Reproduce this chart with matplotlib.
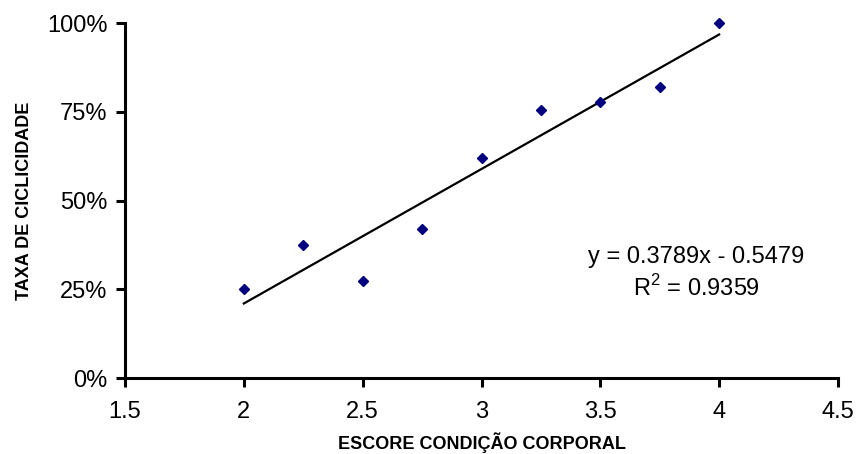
import numpy as np
import matplotlib; matplotlib.use('Agg')
import matplotlib.pyplot as plt
from matplotlib.ticker import PercentFormatter, MultipleLocator

plt.rcParams['font.family'] = ['Liberation Sans', 'DejaVu Sans']
plt.rcParams['mathtext.fontset'] = 'custom'
plt.rcParams['mathtext.rm'] = 'Liberation Sans'

# dados
escore = [2.0, 2.25, 2.5, 2.75, 3.0, 3.25, 3.5, 3.75, 4.0]
taxa = [0.25, 0.375, 0.273, 0.421, 0.619, 0.754, 0.778, 0.821, 1.0]
slope, intercept, r2 = 0.3789, -0.5479, 0.9359

fig = plt.figure(figsize=(8.57, 4.54), dpi=100)
ax = fig.add_axes([0.1459, 0.1674, 0.8319, 0.7819])

xs = np.array([min(escore), max(escore)])
ax.plot(xs, slope * xs + intercept, color='black', lw=1.6, zorder=2)
ax.plot(escore, taxa, 'D', color='#000080', markersize=4.8, zorder=3)

ax.set_xlim(1.5, 4.5); ax.set_ylim(0, 1.0)
ax.xaxis.set_major_locator(MultipleLocator(0.5))
ax.yaxis.set_major_locator(MultipleLocator(0.25))
ax.yaxis.set_major_formatter(PercentFormatter(1.0, decimals=0))
ax.set_xticklabels([f'{v:g}' for v in ax.get_xticks()])

for s in ['top', 'right']:
    ax.spines[s].set_visible(False)
for s in ['left', 'bottom']:
    ax.spines[s].set_linewidth(2.2)
ax.tick_params(direction='out', length=6.5, width=2.2, labelsize=17)
ax.tick_params(axis='y', pad=6)
ax.tick_params(axis='x', pad=10)

ax.set_xlabel('ESCORE CONDIÇÃO CORPORAL', fontsize=13, fontweight='bold', labelpad=7)
ax.set_ylabel('TAXA DE CICLICIDADE', fontsize=13, fontweight='bold', labelpad=10)

eq = f'y = {slope:.4f}x - {abs(intercept):.4f}'
ax.text(0.801, 0.341, eq, transform=ax.transAxes, ha='center', va='center', fontsize=17)
ax.text(0.801, 0.254, f'R$^2$ = {r2:.4f}', transform=ax.transAxes, ha='center', va='center', fontsize=17)

for ln in ax.lines:
    ln.set_clip_on(False)

plt.savefig('out.png', dpi=100)
